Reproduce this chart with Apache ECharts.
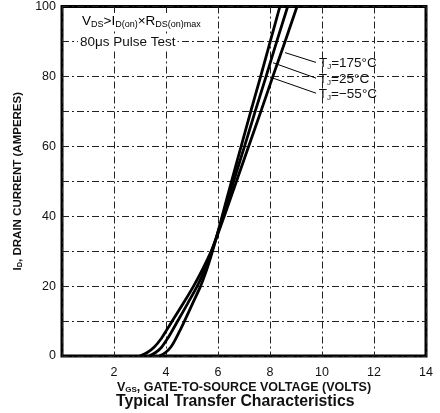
<!DOCTYPE html>
<html>
<head>
<meta charset="utf-8">
<script src="https://cdn.jsdelivr.net/npm/echarts@6/dist/echarts.min.js"></script>
<style>
html,body{margin:0;padding:0;background:#fff;}
#c{width:440px;height:413px;}
</style>
</head>
<body>
<div id="c"></div>
<script>
// Data (V_GS in volts, I_D in amperes)
const xTicks = [2, 4, 6, 8, 10, 12, 14];
const yTicks = [0, 20, 40, 60, 80, 100];
const curve175 = [[3.0,0],[3.28,1],[3.54,2.5],[3.82,5],[4.03,7.5],[4.24,10],[4.66,15],[5.06,20],[5.42,25],[5.74,30],[6.0,35],[6.24,40],[6.71,50],[7.18,60],[7.65,70],[8.11,80],[8.58,90],[9.04,100]];
const curve25  = [[3.35,0],[3.6,1],[3.83,2.5],[4.06,5],[4.26,7.5],[4.45,10],[4.83,15],[5.2,20],[5.51,25],[5.76,30],[5.98,35],[6.19,40],[6.6,50],[7.02,60],[7.43,70],[7.85,80],[8.26,90],[8.68,100]];
const curveM55 = [[3.75,0],[3.98,1],[4.18,2.5],[4.38,5],[4.55,7.5],[4.71,10],[5.02,15],[5.33,20],[5.58,25],[5.79,30],[5.98,35],[6.16,40],[6.52,50],[6.89,60],[7.26,70],[7.64,80],[8.01,90],[8.38,100]];
const leaderStart = [[8.58,86.8],[8.12,83.9],[8.08,79.6]];
const leaderEnd   = [[9.77,84.0],[9.77,79.5],[9.77,75.2]];
const tempLabels  = ['175°C','25°C','−55°C'];

const chart = echarts.init(document.getElementById('c'));
const FONT = '"Liberation Sans", Arial, sans-serif';
const gridLine = {color:'#222', width:1, type:[7,3,2,3]};
const lineStyle = {color:'#000', width:2.8};

const leaders = leaderStart.map((s,i)=>[
  {coord:s},
  {coord:leaderEnd[i], label:{show:true, position:'end', distance:3,
    formatter:'{t|T}{s|J}{t|=' + tempLabels[i] + '}',
    rich:{t:{fontSize:13.5,color:'#111',fontFamily:FONT}, s:{fontSize:8,color:'#111',fontFamily:FONT,padding:[7,0,0,0]}}}}
]);

chart.setOption({
  animation:false,
  backgroundColor:'#fff',
  title:{text:'Typical Transfer Characteristics', left:116, top:394,
    textStyle:{fontSize:15.8, fontWeight:'bold', color:'#111', fontFamily:FONT, lineHeight:16}, padding:0},
  grid:{left:62, right:14, top:6, bottom:57, show:true, borderColor:'#000', borderWidth:3, backgroundColor:'transparent'},
  xAxis:{type:'value', min:0, max:14, interval:2,
    axisLine:{show:false}, axisTick:{show:false},
    axisLabel:{color:'#111', fontSize:12.5, fontFamily:FONT, margin:10,
      formatter:v=> xTicks.indexOf(v)>=0 ? String(v) : ''},
    splitLine:{show:true, lineStyle:gridLine},
    name:'{b|V}{bs|GS}{b|, GATE-TO-SOURCE VOLTAGE (VOLTS)}',
    nameLocation:'middle', nameGap:25, nameMoveOverlap:false,
    nameTextStyle:{rich:{
      b:{fontSize:12.5,fontWeight:'bold',color:'#111',fontFamily:FONT},
      bs:{fontSize:8,fontWeight:'bold',color:'#111',fontFamily:FONT,padding:[5,0,0,0]}
    }}
  },
  yAxis:{type:'value', min:0, max:100, interval:10,
    axisLine:{show:false},
    axisTick:{show:false},
    axisLabel:{color:'#111', fontSize:12.5, fontFamily:FONT, margin:6,
      formatter:v=> yTicks.indexOf(v)>=0 ? String(v) : ''},
    splitLine:{show:true, lineStyle:gridLine},
    name:'{b|I}{bs|D}{b|, DRAIN CURRENT (AMPERES)}',
    nameLocation:'middle', nameGap:38, nameMoveOverlap:false,
    nameTextStyle:{rich:{
      b:{fontSize:11.5,fontWeight:'bold',color:'#111',fontFamily:FONT},
      bs:{fontSize:7.5,fontWeight:'bold',color:'#111',fontFamily:FONT,padding:[5,0,0,0]}
    }}
  },
  graphic:[
    {type:'text', left:80, top:13, z:10, style:{
      text:'{t|V}{s|DS}{t|>I}{s|D(on)}{t|×R}{s|DS(on)max}',
      backgroundColor:'#fff', padding:[1,2,1,2],
      rich:{t:{fontSize:13.5,color:'#111',fontFamily:FONT}, s:{fontSize:9,color:'#111',fontFamily:FONT,padding:[6,0,0,0]}}
    }},
    {type:'text', left:78, top:34, z:10, style:{
      text:'80μs Pulse Test', fontSize:13.5, fill:'#111', fontFamily:FONT,
      backgroundColor:'#fff', padding:[1,2,1,2]
    }}
  ],
  series:[
    {type:'line', name:'175', data:curve175, smooth:0.3, symbol:'none', lineStyle:lineStyle,
      markLine:{silent:true, symbol:'none', lineStyle:{color:'#000', width:1, type:'solid'}, label:{show:false}, data:leaders}},
    {type:'line', name:'25', data:curve25, smooth:0.3, symbol:'none', lineStyle:lineStyle},
    {type:'line', name:'-55', data:curveM55, smooth:0.3, symbol:'none', lineStyle:lineStyle}
  ]
});
</script>
</body>
</html>
